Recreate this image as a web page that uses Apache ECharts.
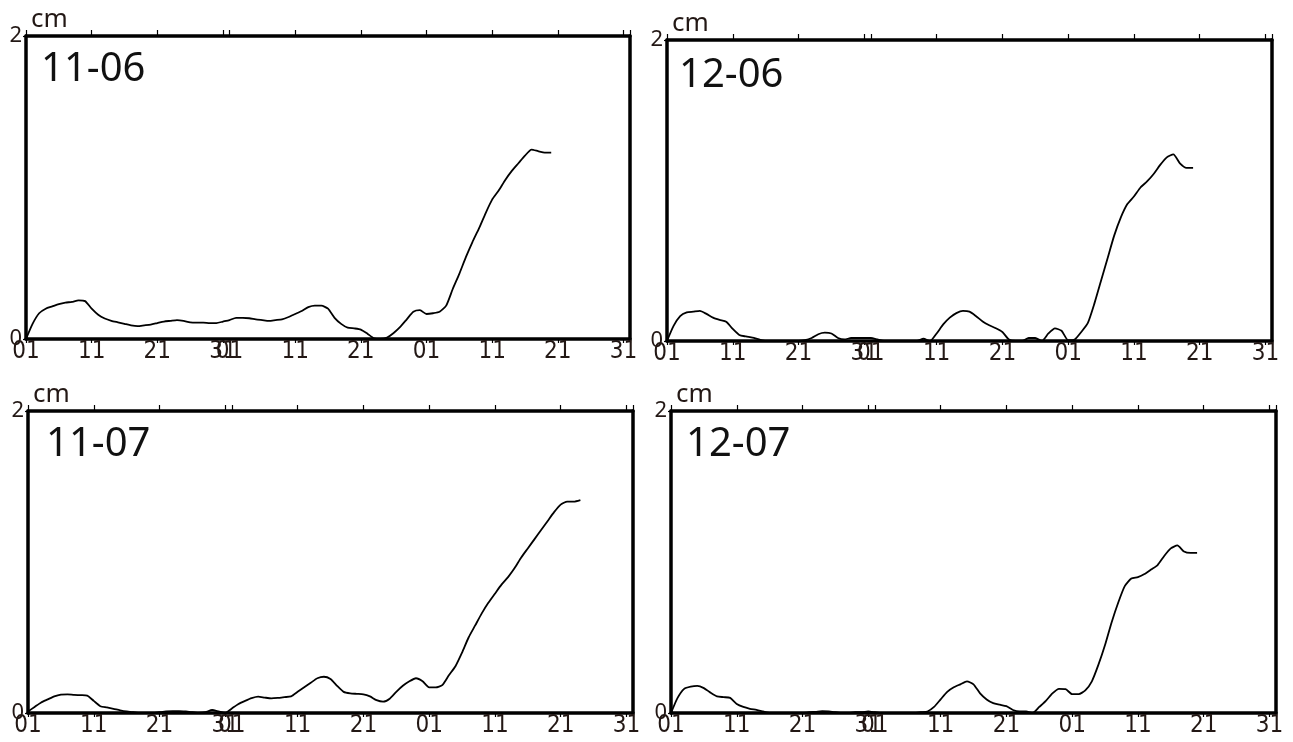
<!DOCTYPE html>
<html>
<head>
<meta charset="utf-8">
<script src="https://cdn.jsdelivr.net/npm/echarts@6/dist/echarts.min.js"></script>
<style>
html,body{margin:0;padding:0;background:#fff;}
#chart{width:1293px;height:742px;}
</style>
</head>
<body>
<div id="chart"></div>
<script>
// ---- data (day index 0 = first "01"; daily values in cm) ----
const panelNames = ['11-06', '12-06', '11-07', '12-07'];
const tickDays = [0, 10, 20, 30, 31, 41, 51, 61, 71, 81, 91];
const tickLabels = ['01', '11', '21', '31', '01', '11', '21', '01', '11', '21', '31'];
const yTicks = [0, 2];
const yName = 'cm';

const s1106 = [0, 0.10, 0.17, 0.20, 0.215, 0.23, 0.24, 0.245, 0.255, 0.25,
  0.20, 0.16, 0.135, 0.12, 0.11, 0.10, 0.09, 0.085, 0.09, 0.095,
  0.105, 0.115, 0.12, 0.125, 0.12, 0.11, 0.108, 0.108, 0.105, 0.105,
  0.115, 0.125, 0.14, 0.14, 0.137, 0.13, 0.125, 0.12, 0.125, 0.13,
  0.145, 0.165, 0.185, 0.21, 0.22, 0.22, 0.20, 0.14, 0.10, 0.075,
  0.07, 0.062, 0.035, 0.005, 0, 0.01, 0.04, 0.08, 0.13, 0.18,
  0.19, 0.165, 0.17, 0.18, 0.22, 0.33, 0.43, 0.54, 0.64, 0.73,
  0.83, 0.92, 0.98, 1.05, 1.11, 1.16, 1.21, 1.25, 1.24, 1.23, 1.23];

const s1206 = [0, 0.10, 0.165, 0.19, 0.195, 0.20, 0.18, 0.155, 0.14, 0.128,
  0.08, 0.04, 0.03, 0.022, 0.01, 0, 0, 0, 0, 0,
  0, 0.005, 0.02, 0.045, 0.055, 0.05, 0.02, 0.01, 0.02, 0.02,
  0.02, 0.02, 0.01, 0, 0, 0, 0, 0, 0, 0.015,
  0, 0.05, 0.11, 0.155, 0.185, 0.20, 0.195, 0.165, 0.13, 0.105,
  0.085, 0.06, 0.01, 0, 0, 0.02, 0.02, 0, 0.05, 0.084,
  0.068, 0.005, 0.01, 0.06, 0.12, 0.25, 0.40, 0.55, 0.70, 0.82,
  0.91, 0.96, 1.02, 1.06, 1.11, 1.17, 1.22, 1.24, 1.18, 1.15, 1.15];

const s1107 = [0.01, 0.04, 0.07, 0.09, 0.11, 0.122, 0.124, 0.12, 0.118, 0.115,
  0.08, 0.045, 0.037, 0.028, 0.018, 0.01, 0.005, 0, 0, 0,
  0.005, 0.01, 0.013, 0.012, 0.01, 0.005, 0, 0.005, 0.02, 0.01,
  0, 0.03, 0.06, 0.08, 0.098, 0.108, 0.102, 0.097, 0.10, 0.105,
  0.11, 0.14, 0.17, 0.20, 0.23, 0.24, 0.225, 0.18, 0.14, 0.13,
  0.127, 0.124, 0.11, 0.085, 0.075, 0.095, 0.14, 0.18, 0.21, 0.23,
  0.21, 0.17, 0.17, 0.185, 0.25, 0.31, 0.40, 0.50, 0.58, 0.66,
  0.73, 0.79, 0.85, 0.90, 0.96, 1.03, 1.09, 1.15, 1.21, 1.27,
  1.33, 1.38, 1.40, 1.40, 1.41];

const s1207 = [0, 0.10, 0.16, 0.175, 0.18, 0.165, 0.135, 0.11, 0.105, 0.10,
  0.06, 0.04, 0.028, 0.02, 0.01, 0, 0, 0, 0, 0,
  0, 0.005, 0.008, 0.012, 0.01, 0.005, 0, 0, 0.005, 0.005,
  0.01, 0.005, 0, 0, 0, 0, 0, 0, 0.005, 0.01,
  0.04, 0.09, 0.14, 0.17, 0.19, 0.21, 0.19, 0.13, 0.09, 0.065,
  0.055, 0.045, 0.02, 0.01, 0.01, 0, 0.04, 0.08, 0.13, 0.16,
  0.158, 0.125, 0.125, 0.15, 0.21, 0.32, 0.45, 0.60, 0.73, 0.84,
  0.89, 0.90, 0.92, 0.95, 0.98, 1.04, 1.09, 1.11, 1.07, 1.06, 1.06];

const seriesValues = [s1106, s1206, s1107, s1207];

// ---- layout ----
const grids = [
  {left: 26, top: 36, width: 604, height: 303},
  {left: 667, top: 40, width: 605, height: 301},
  {left: 28, top: 411, width: 605, height: 302},
  {left: 671, top: 411, width: 605, height: 302}
];
const titlePos = [
  {left: 41, top: 50},
  {left: 679, top: 56},
  {left: 46, top: 425},
  {left: 686, top: 425}
];

const TXT = '#231815';
const NARROW = '"Liberation Sans Narrow", "DejaVu Sans Condensed", "Noto Sans", sans-serif';
const REG = '"Noto Sans", "Open Sans", sans-serif';
const LW = 3.5;
const X_MAX = 92;
const tickAll = tickDays.concat([X_MAX]);
const labelMap = {};
tickDays.forEach((d, i) => { labelMap[d] = tickLabels[i]; });

const option = {
  backgroundColor: '#fff',
  animation: false,
  title: [],
  grid: [],
  xAxis: [],
  yAxis: [],
  series: []
};

grids.forEach((g, i) => {
  option.grid.push(Object.assign({outerBoundsMode: 'none', containLabel: false}, g));
  option.title.push({
    text: panelNames[i],
    left: titlePos[i].left, top: titlePos[i].top, padding: 0,
    textStyle: {fontFamily: REG, fontSize: 40, fontWeight: 'normal', color: '#111'}
  });
  // bottom x axis
  option.xAxis.push({
    type: 'value', gridIndex: i, position: 'bottom', min: 0, max: X_MAX,
    splitLine: {show: false},
    axisLine: {show: true, onZero: false, lineStyle: {color: '#000', width: LW}},
    axisTick: {show: true, customValues: tickAll, length: 4, lineStyle: {color: '#000', width: 1.2}},
    axisLabel: {show: true, customValues: tickDays, margin: 1, color: TXT,
      fontFamily: NARROW, fontSize: 24,
      formatter: v => labelMap[v] !== undefined ? labelMap[v] : ''}
  });
  // top x axis (frame + ticks)
  option.xAxis.push({
    type: 'value', gridIndex: i, position: 'top', min: 0, max: X_MAX,
    splitLine: {show: false},
    axisLine: {show: true, onZero: false, lineStyle: {color: '#000', width: LW}},
    axisTick: {show: true, customValues: tickAll, length: 6, lineStyle: {color: '#000', width: 1.2}},
    axisLabel: {show: false}
  });
  // left y axis
  option.yAxis.push({
    type: 'value', gridIndex: i, position: 'left', min: 0, max: 2, interval: 2,
    name: yName, nameLocation: 'end', nameGap: 3,
    nameTextStyle: {fontFamily: REG, fontSize: 26, color: TXT, align: 'left', verticalAlign: 'bottom', padding: [0, 0, 0, 5]},
    splitLine: {show: false},
    axisLine: {show: true, onZero: false, lineStyle: {color: '#000', width: LW}},
    axisTick: {show: true, length: 3, lineStyle: {color: '#000', width: 1.2}},
    axisLabel: {show: true, margin: 4, color: TXT, fontFamily: REG, fontSize: 22,
      customValues: yTicks}
  });
  // right y axis (frame)
  option.yAxis.push({
    type: 'value', gridIndex: i, position: 'right', min: 0, max: 2, interval: 2,
    splitLine: {show: false},
    axisLine: {show: true, onZero: false, lineStyle: {color: '#000', width: LW}},
    axisTick: {show: false}, axisLabel: {show: false}
  });
  option.series.push({
    type: 'line', xAxisIndex: i * 2, yAxisIndex: i * 2,
    data: seriesValues[i].map((v, d) => [d, v]),
    showSymbol: false, smooth: 0.2,
    lineStyle: {color: '#000', width: 1.8},
    silent: true
  });
});

const chart = echarts.init(document.getElementById('chart'), null, {renderer: 'canvas'});
chart.setOption(option);
</script>
</body>
</html>
